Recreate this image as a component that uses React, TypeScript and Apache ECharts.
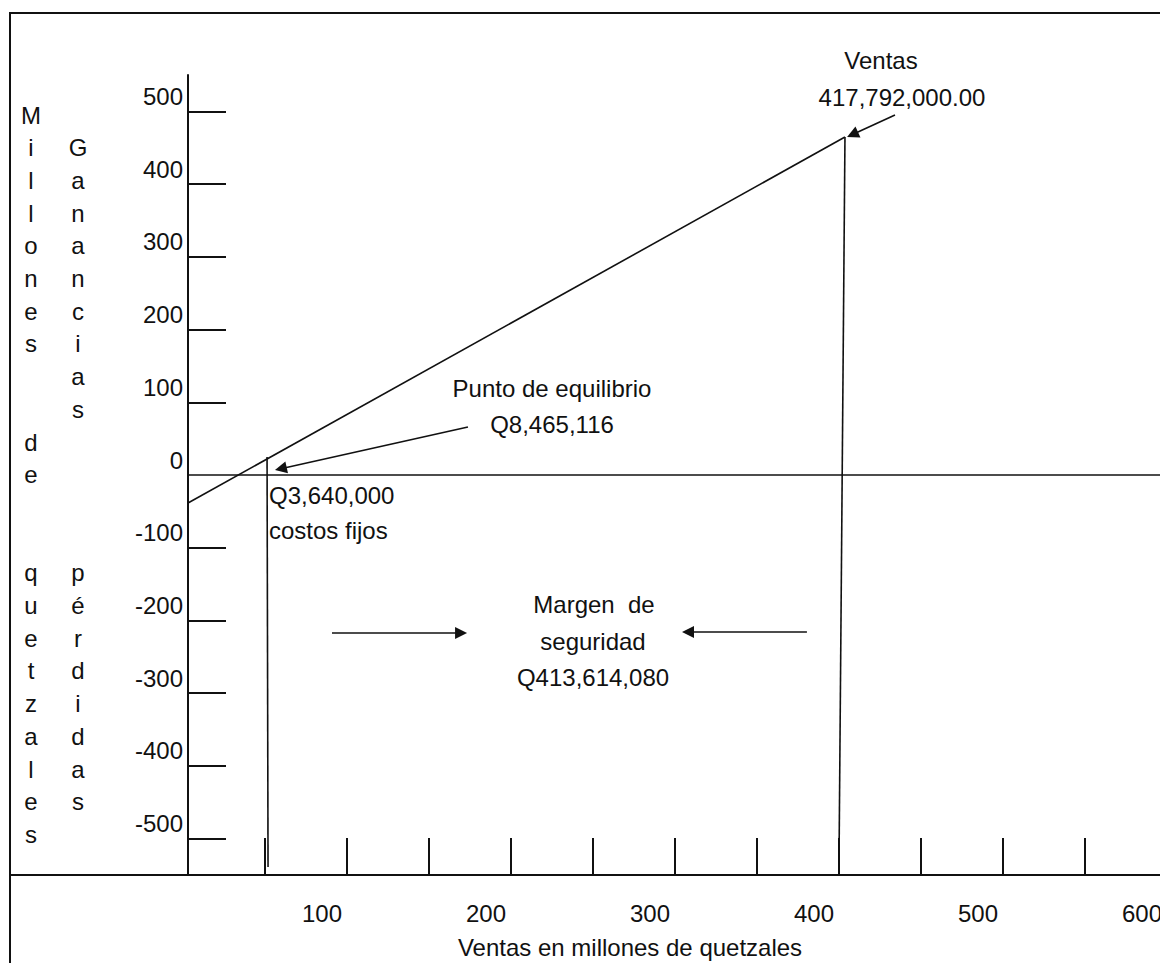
import React, { useEffect, useRef } from "react";
import * as echarts from "echarts";

const FONT = '"Liberation Sans", Arial, sans-serif';
const INK = "#111";

// Axis ticks and labels (values in chart units)
const yTickValues = [-500, -400, -300, -200, -100, 100, 200, 300, 400, 500];
const yLabelValues = [-500, -400, -300, -200, -100, 0, 100, 200, 300, 400, 500];
const xLabelValues = [100, 200, 300, 400, 500, 600];
const xTickValues = [65, 115, 165, 215, 265, 315, 365, 415, 465, 515, 565];

// Lines [x (millones), y (millones)]
const profitLine = [[18.3, -38.5], [418.9, 464.7]];
const zeroLine = [[18.3, 0], [611, 0]];
const breakEvenLine = [[66.5, 24.7], [67.1, -539]];
const salesLine = [[418.9, 464.7], [415.2, -550]];

// Arrows [start, end]
const arrowVentas = [[449.4, 495], [423.5, 468.2]];
const arrowEquilibrio = [[189.0, 66], [74.9, 8.7]];
const arrowMargenLeft = [[106.1, -217.2], [184.8, -217.2]];
const arrowMargenRight = [[395.7, -215.9], [323.2, -215.9]];

const leftTitle1 = "M\ni\nl\nl\no\nn\ne\ns\n\n\nd\ne\n\n\nq\nu\ne\nt\nz\na\nl\ne\ns";
const leftTitle2 = "\nG\na\nn\na\nn\nc\ni\na\ns\n\n\n\n\np\né\nr\nd\ni\nd\na\ns";

function txt(text: string, x: number, y: number, align = "center", extra: any = {}) {
  return {
    type: "text",
    x,
    y,
    silent: true,
    z: 100,
    style: {
      text,
      fill: INK,
      fontSize: 24,
      fontFamily: FONT,
      align,
      textAlign: align,
      verticalAlign: "middle",
      textVerticalAlign: "middle",
      ...extra,
    },
  };
}

export default function App() {
  const ref = useRef<HTMLDivElement>(null);
  useEffect(() => {
    if (!ref.current) return;
    const chart = echarts.init(ref.current, null, { renderer: "svg" });
    const lineSeries = (data: number[][], w = 1.6) => ({
      type: "line",
      data,
      symbol: "none",
      silent: true,
      lineStyle: { color: INK, width: w },
      z: 5,
    });
    chart.setOption({
      animation: false,
      backgroundColor: "#fff",
      grid: { left: 158, right: 0, top: 75, bottom: 88, outerBoundsMode: "none", containLabel: false },
      xAxis: {
        type: "value",
        min: 0,
        max: 611,
        axisLine: { show: true, onZero: false, lineStyle: { color: INK, width: 2 } },
        axisTick: {
          show: true,
          inside: true,
          length: 37,
          customValues: xTickValues,
          lineStyle: { color: INK, width: 2 },
        },
        axisLabel: {
          customValues: xLabelValues,
          margin: 26,
          fontSize: 24,
          lineHeight: 24,
          color: INK,
          fontFamily: FONT,
          hideOverlap: false,
        },
        splitLine: { show: false },
      },
      yAxis: {
        type: "value",
        min: -550,
        max: 550,
        offset: -30,
        axisLine: { show: true, onZero: false, lineStyle: { color: INK, width: 2 } },
        axisTick: {
          show: true,
          inside: true,
          length: 38,
          customValues: yTickValues,
          lineStyle: { color: INK, width: 2 },
        },
        axisLabel: {
          customValues: yLabelValues,
          margin: 5,
          verticalAlign: "bottom",
          fontSize: 24,
          lineHeight: 30,
          color: INK,
          fontFamily: FONT,
        },
        splitLine: { show: false },
      },
      series: [
        lineSeries(profitLine),
        lineSeries(zeroLine),
        lineSeries(breakEvenLine),
        lineSeries(salesLine),
        {
          type: "lines",
          coordinateSystem: "cartesian2d",
          silent: true,
          symbol: ["none", "triangle"],
          symbolSize: [10, 12],
          lineStyle: { color: INK, width: 1.6, opacity: 1, curveness: 0 },
          z: 6,
          data: [arrowVentas, arrowEquilibrio, arrowMargenLeft, arrowMargenRight].map((c) => ({
            coords: c,
          })),
        },
      ],
      graphic: [
        {
          type: "rect",
          silent: true,
          shape: { x: 10, y: 13, width: 1400, height: 1200 },
          style: { fill: "none", stroke: INK, lineWidth: 2 },
        },
        {
          type: "line",
          silent: true,
          shape: { x1: 10, y1: 875, x2: 160, y2: 875 },
          style: { stroke: INK, lineWidth: 2 },
        },
        txt(leftTitle1, 31, 98.7, "center", {
          lineHeight: 32.7,
          verticalAlign: "top",
          textVerticalAlign: "top",
        }),
        txt(leftTitle2, 78, 98.7, "center", {
          lineHeight: 32.7,
          verticalAlign: "top",
          textVerticalAlign: "top",
        }),
        txt("Ventas", 881, 60),
        txt("417,792,000.00", 902, 97),
        txt("Punto de equilibrio", 552, 388),
        txt("Q8,465,116", 552, 424),
        txt("Q3,640,000", 269, 495, "left"),
        txt("costos fijos", 269, 530, "left"),
        txt("Margen  de", 594, 604),
        txt("seguridad", 593, 641),
        txt("Q413,614,080", 593, 677),
        txt("Ventas en millones de quetzales", 630, 947),
      ],
    });
    return () => chart.dispose();
  }, []);
  return (
    <div
      ref={ref}
      style={{ position: "fixed", left: 0, top: 0, width: 1160, height: 963, background: "#fff" }}
    />
  );
}
